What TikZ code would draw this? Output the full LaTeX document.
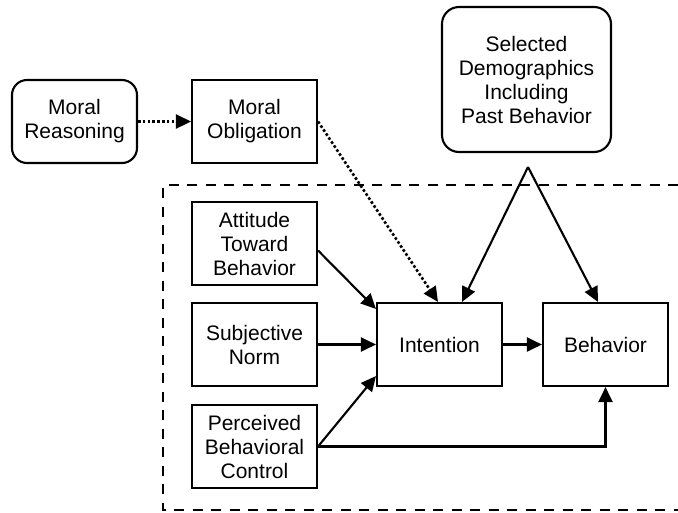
\documentclass[tikz,border=0pt]{standalone}
\usepackage{fontspec}
\setmainfont{Liberation Sans}
\usetikzlibrary{arrows.meta,calc}
\begin{document}
\begin{tikzpicture}[x=1pt,y=-1pt,
  box/.style={draw, line width=2.1pt, minimum width=125pt, minimum height=83pt, inner sep=0pt, align=center,
    font=\fontsize{21}{24}\selectfont},
  rbox/.style={box, rounded corners=15pt},
  conn/.style={line width=2.1pt, -{Triangle[length=15pt,width=14pt]}},
  dotconn/.style={conn, line width=2.6pt, dash pattern=on 2.6pt off 2.2pt},
  frame/.style={line width=2.8pt, dash pattern=on 10pt off 8.5pt}]
\useasboundingbox (0,0) rectangle (678,512);
\node[rbox] (MR) at (74.5,121.5) {Moral\\Reasoning};
\node[box] (MO) at (254.5,121.5) {Moral\\Obligation};
\node[rbox, minimum width=169pt, minimum height=145pt, rounded corners=17pt] (SD) at (526.5,79.5)
  {Selected\\Demographics\\Including\\Past Behavior};
\node[box] (ATB) at (254.5,243.5) {Attitude\\Toward\\Behavior};
\node[box] (SN) at (254.5,344.5) {Subjective\\Norm};
\node[box] (PBC) at (254.5,446.5) {Perceived\\Behavioral\\Control};
\node[box] (INT) at (439.5,344.5) {Intention};
\node[box] (BEH) at (605.5,344.5) {Behavior};
\coordinate (apex) at (528,167);
\coordinate (fr1) at (678,185);
\coordinate (fr2) at (163,185);
\coordinate (fr3) at (163,510);
\coordinate (fr4) at (678,510);
\draw[frame] (fr1) -- (fr2) -- (fr3) -- (fr4);
\draw[dotconn] (MR.east) -- (MO.west);
\draw[dotconn] (MO.east) -- ($(INT.north)+(-1.5,0)$);
\draw[conn] (apex) -- ($(INT.north)+(22.5,0)$);
\draw[conn] (apex) -- ($(BEH.north)+(-7.5,0)$);
\draw[conn] ($(ATB.east)+(0,7)$) -- ($(INT.north west)+(0,7)$);
\draw[conn] (SN.east) -- (INT.west);
\draw[conn] (PBC.east) -- ($(INT.south west)+(0,-11)$);
\draw[conn] (PBC.east) -| (BEH.south);
\draw[conn] (INT.east) -- (BEH.west);
\end{tikzpicture}
\end{document}
